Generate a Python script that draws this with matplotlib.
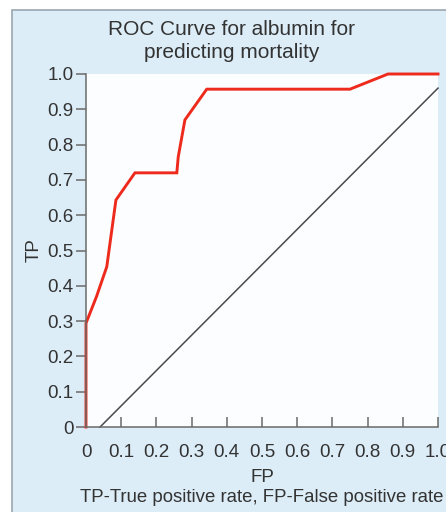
import matplotlib
matplotlib.use("Agg")
import matplotlib.pyplot as plt
from matplotlib.patches import Rectangle

plt.rcParams['font.family'] = ['Liberation Sans', 'DejaVu Sans']

# ROC curve points (false positive rate, true positive rate)
fp = [0.0, 0.0, 0.03, 0.059, 0.085, 0.139, 0.258, 0.262, 0.281, 0.343, 0.75, 0.858, 1.0]
tp = [0.0, 0.294, 0.37, 0.454, 0.643, 0.72, 0.72, 0.765, 0.87, 0.957, 0.957, 1.0, 1.0]

# reference line
ref_fp = [0.04, 1.0]
ref_tp = [0.0, 0.96]

ticks = [0, 0.1, 0.2, 0.3, 0.4, 0.5, 0.6, 0.7, 0.8, 0.9, 1.0]
tick_labels = ['0', '0.1', '0.2', '0.3', '0.4', '0.5', '0.6', '0.7', '0.8', '0.9', '1.0']

W, H = 446, 512
fig = plt.figure(figsize=(W / 100, H / 100), dpi=100, facecolor='white')

# light blue panel behind everything
bg = fig.add_axes([0, 0, 1, 1], zorder=-10)
bg.set_axis_off()
bg.set_xlim(0, 1)
bg.set_ylim(0, 1)
bg.add_patch(Rectangle((12 / W, -0.01), 1.0, (H - 10) / H + 0.01,
                       facecolor='#dcedf7', edgecolor='#9aa7b0', lw=1.2))

ax = fig.add_axes([86 / W, 85 / H, 352 / W, 353 / H])
ax.set_facecolor('#fbfdfe')

ax.plot(ref_fp, ref_tp, color='#4a4a4a', lw=1.1, clip_on=False)
ax.plot(fp, tp, color='#ee2a1c', lw=2.1, clip_on=False, solid_joinstyle='miter')

ax.set_xlim(0, 1)
ax.set_ylim(0, 1)
ax.set_xticks(ticks)
ax.set_xticklabels(tick_labels)
ax.set_yticks(ticks)
ax.set_yticklabels(tick_labels)

for s in ['top', 'right']:
    ax.spines[s].set_visible(False)
for s in ['left', 'bottom']:
    ax.spines[s].set_color('#6a6a6a')
    ax.spines[s].set_linewidth(1.1)

ax.tick_params(axis='y', direction='out', length=7, width=1.1, color='#6a6a6a',
               labelsize=13.5, labelcolor='#333333', pad=2)
ax.tick_params(axis='x', direction='in', length=7, width=1.1, color='#6a6a6a',
               labelsize=13.5, labelcolor='#333333', pad=12)

ax.set_xlabel('FP', fontsize=13.5, color='#333333', labelpad=6)
ax.set_ylabel('TP', fontsize=13.5, color='#333333', labelpad=3)

fig.text(232 / W, 1 - 41 / H, 'ROC Curve for albumin for\npredicting mortality',
         ha='center', va='center', fontsize=15, color='#333333', linespacing=1.3)
fig.text(262 / W, 1 - 497 / H, 'TP-True positive rate, FP-False positive rate',
         ha='center', va='center', fontsize=13.4, color='#333333')

fig.savefig('out.png', dpi=100, facecolor=fig.get_facecolor())
